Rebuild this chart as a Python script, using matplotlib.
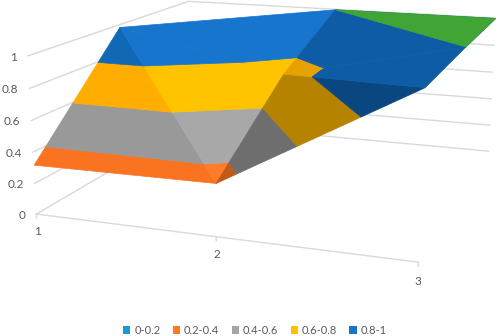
import numpy as np
import matplotlib
matplotlib.use("Agg")
import matplotlib.pyplot as plt
from matplotlib.patches import Patch
from mpl_toolkits.mplot3d import proj3d
from mpl_toolkits.mplot3d.art3d import Poly3DCollection

x_values = [1, 2, 3]
depth_values = [1, 2, 3]
row_1 = [0.32, 0.33, 0.99]
row_2 = [0.985, 0.74, 1.0]
row_3 = [None, 1.0, 1.0]
z_ticks = [0, 0.2, 0.4, 0.6, 0.8, 1]
z_labels = ["0", "0.2", "0.4", "0.6", "0.8", "1"]
band_edges = [0, 0.2, 0.4, 0.6, 0.8, 1.0, 1.2]
legend_labels = ["0-0.2", "0.2-0.4", "0.4-0.6", "0.6-0.8", "0.8-1"]
legend_colors = ["#1C9AD6", "#FF7A20", "#A5A5A5", "#FFC000", "#1874CD"]

# fixed perspective camera of the 3D axes
P = np.array([[186.40656341230365, 118.27594478864418, -10.423586234717035, -264.3777728144911],
              [10.597924161243238, -28.904438163801522, -177.85459201518321, 255.91638276176397],
              [-0.061341016064095644, 0.17128759699163157, -0.03908791138929077, 1.0]])
null = np.linalg.svd(P)[2][-1]
M = np.vstack([P[0], P[1], null, P[2]])

plt.rcParams["font.family"] = "Lato"
fig = plt.figure(figsize=(4.98, 3.36), dpi=100)
ax = fig.add_axes([0, 0, 1, 1], projection="3d")
ax.set_proj_type("ortho")
ax.apply_aspect = lambda position=None: None
ax.get_proj = lambda: M
ax.set_axis_off()
ax.computed_zorder = False
ax.viewLim.intervalx = (0, 498)
ax.viewLim.intervaly = (336, 0)

GRID = "#D9D9D9"
TEXT = "#595959"
def label(x, d, z, s, ha, dy=0):
    u, v, _ = proj3d.proj_transform(x, d, z, M)
    ax.text2D(u, v + dy, s, transform=ax.transData, ha=ha, va="center", fontsize=8.5, color=TEXT)

for z, lab in zip(z_ticks, z_labels):
    ax.plot([1, 1, 3], [1, 3, 3], [z, z, z], color=GRID, lw=1, zorder=1)
    label(0.935, 1, z, lab, "right", dy=2.5)
ax.plot([1, 3], [1, 1], [0, 0], color=GRID, lw=1, zorder=1)
for x in x_values:
    ax.plot([x, x], [1, 1], [0, -0.025], color=GRID, lw=1, zorder=1)
    label(x, 1, -0.11, str(x), "center", dy=0.5)

grid = [row_1, row_2, row_3]
def node(i, j):
    return (x_values[i], depth_values[j], grid[j][i])

styles = {
 "left":  ["#1C9AD6", "#FA7320", "#999999", "#FFAE00", "#1168B4", "#41A535"],
 "light": ["#1C9AD6", "#FF7D2A", "#A8A8A8", "#FFC300", "#1775CE", "#41A535"],
 "dark":  ["#1C9AD6", "#C05A15", "#6E6E6E", "#B58300", "#0A4780", "#41A535"],
 "mid":   ["#1C9AD6", "#C05A15", "#808080", "#E8A200", "#0F5CA6", "#41A535"],
}
faces = [
 ((0,0),(1,0),(0,1),"left"),
 ((0,1),(1,0),(1,1),"light"),
 ((0,1),(1,1),(1,2),"light"),
 ((1,0),(2,0),(1,1),"dark"),
 ((1,1),(2,0),(2,1),"mid"),
 ((1,1),(2,1),(1,2),"mid"),
 ((1,2),(2,1),(2,2),"mid"),
]

def clip(poly, level, keep_above):
    out = []
    for k in range(len(poly)):
        a, b = np.array(poly[k], float), np.array(poly[(k + 1) % len(poly)], float)
        da, db = a[2] - level, b[2] - level
        ina = da == 0 or (da > 0) == keep_above
        inb = db == 0 or (db > 0) == keep_above
        if ina:
            out.append(tuple(a))
        if ina != inb and da != 0 and db != 0:
            out.append(tuple(a + (b - a) * da / (da - db)))
    return out

order = 2
for a, b, c, style in faces:
    tri = [node(*a), node(*b), node(*c)]
    for n in range(len(band_edges) - 1):
        poly = clip(tri, band_edges[n], True)
        if poly:
            poly = clip(poly, band_edges[n + 1], False)
        if len(set(poly)) < 3:
            continue
        col = styles[style][n]
        pc = Poly3DCollection([poly], facecolors=col, edgecolors=col, linewidths=0.5, zorder=order)
        ax.add_collection3d(pc, autolim=False)
        order += 1

handles = [Patch(facecolor=c, edgecolor="none") for c in legend_colors]
fig.legend(handles, legend_labels, loc="center", bbox_to_anchor=(255 / 498, 1 - 330.5 / 336), ncol=5,
           frameon=False, fontsize=8, labelcolor=TEXT, handlelength=0.65, handleheight=0.65,
           handletextpad=0.35, columnspacing=1.12, borderpad=0, borderaxespad=0)

fig.savefig("out.png", dpi=100)
